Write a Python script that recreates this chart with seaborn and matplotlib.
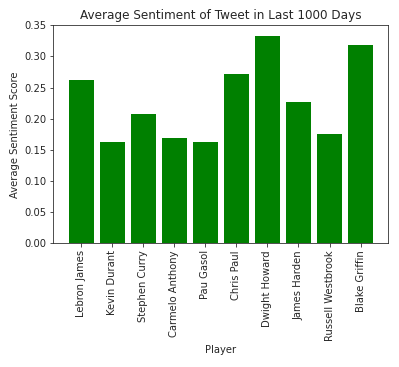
import matplotlib
matplotlib.use("Agg")
import matplotlib.pyplot as plt
import seaborn as sns
import pandas as pd

players = ["Lebron James", "Kevin Durant", "Stephen Curry", "Carmelo Anthony",
           "Pau Gasol", "Chris Paul", "Dwight Howard", "James Harden",
           "Russell Westbrook", "Blake Griffin"]
scores = [0.262, 0.162, 0.207, 0.169, 0.162, 0.272, 0.333, 0.227, 0.175, 0.319]

df = pd.DataFrame({"Player": players, "Score": scores})

plt.rcParams["font.family"] = ["DejaVu Sans"]
plt.rcParams["font.size"] = 10
dark = "#262626"
plt.rcParams.update({"text.color": dark, "axes.labelcolor": dark,
                     "xtick.color": dark, "ytick.color": dark,
                     "axes.edgecolor": dark})
fig = plt.figure(figsize=(399 / 72, 367 / 72), dpi=72)
ax = fig.add_axes([0.134, 0.337, 0.839, 0.594])
sns.barplot(data=df, x="Player", y="Score", color="green", saturation=1,
            width=0.8, ax=ax)
ax.set_ylim(0, 0.35)
ax.set_yticks([0, 0.05, 0.10, 0.15, 0.20, 0.25, 0.30, 0.35])
ax.set_yticklabels([f"{v:.2f}" for v in ax.get_yticks()])
ax.set_xlim(-0.89, 9.89)
ax.tick_params(axis="x", rotation=90)
ax.set_xlabel("Player")
ax.set_ylabel("Average Sentiment Score")
ax.set_title("Average Sentiment of Tweet in Last 1000 Days")
fig.savefig("out.png", dpi=72)
